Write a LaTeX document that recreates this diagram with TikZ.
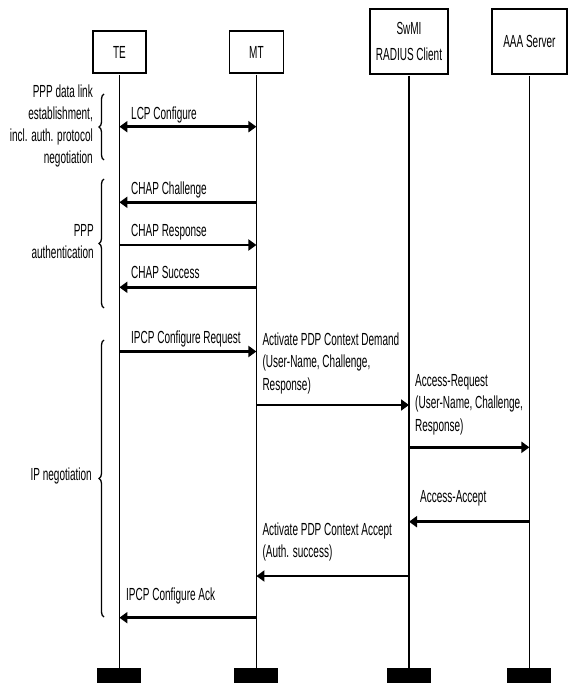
\documentclass[tikz,border=0pt]{standalone}
\usepackage{fontspec}
\setmainfont{Liberation Sans}
\usetikzlibrary{arrows.meta,decorations.pathreplacing}

\tikzset{
	>={Triangle[length=8pt,width=11pt]},
	party/.style={draw, line width=1.8pt, yscale=1.75, inner sep=0pt, align=center, font=\fontsize{10}{13}\selectfont},
	bar/.style={fill=black, inner sep=0pt, minimum width=44pt, minimum height=15pt},
	life/.style={line width=1.6pt},
	msg/.style={line width=2.6pt, ->},
	lbl/.style={yscale=1.75, inner sep=0pt, anchor=north west, align=left, font=\fontsize{10}{12.8}\selectfont},
	grp/.style={yscale=1.75, inner sep=0pt, anchor=east, align=right, font=\fontsize{10}{12.6}\selectfont},
	brc/.style={decorate, decoration={brace, amplitude=5pt}, line width=1.3pt}
}

\begin{document}
\begin{tikzpicture}[x=1pt,y=-1pt]
\useasboundingbox (0,0) rectangle (568,684);

\node[party, minimum width=53pt, minimum height=24pt] (te) at (119.4,52) {TE};
\node[party, minimum width=54pt, minimum height=24pt] (mt) at (256.4,52) {MT};
\node[party, minimum width=78pt, minimum height=37.1pt, font=\fontsize{10}{15.4}\selectfont] (sw) at (409,41.5) {SwMI\\RADIUS Client};
\node[party, minimum width=75pt, minimum height=37.1pt] (aaa) at (529.4,41.5) {AAA Server};

\foreach \p/\x in {te/119.4, mt/256.4, sw/409, aaa/529.4}{
	\node[bar] (b\p) at (\x,675.5) {};
	\draw[life] (\p) -- (b\p);
}

\draw[msg, <->] (te |- 0,126.7) -- (mt |- 0,126.7);
\foreach \y/\a/\b in {
	202.3/mt/te, 245/te/mt, 287.3/mt/te,%
	351.5/te/mt, 405/mt/sw, 447.3/sw/aaa,%
	521.7/aaa/sw, 576/sw/mt, 617.7/mt/te%
}{
	\draw[msg] (\a |- 0,\y) -- (\b |- 0,\y);
}

\foreach[count=\i] \x/\y/\t in {
	131/106.2/LCP Configure,
	131/181.2/CHAP Challenge,
	131/223.9/CHAP Response,
	131/266.2/CHAP Success,
	131/330.2/IPCP Configure Request,
	262.3/332.2/{Activate PDP Context Demand\\(User-Name, Challenge,\\Response)},
	415/373.9/{Access-Request\\(User-Name, Challenge,\\Response)},
	420/490.5/Access-Accept,
	262.3/522.2/{Activate PDP Context Accept\\(Auth. success)},
	126/587.2/IPCP Configure Ack%
}{
	\node[lbl] (m\i) at (\x,\y) {\t};
}

\draw[brc] (104,160) -- (104,94);
\node[grp] (g1) at (93,126) {PPP data link\\establishment,\\incl. auth. protocol\\negotiation};

\draw[brc] (104,308) -- (104,179);
\node[grp] (g2) at (94,242) {PPP\\authentication};

\draw[brc] (104,617) -- (104,340);
\node[grp] (g3) at (92,476) {IP negotiation};

\end{tikzpicture}
\end{document}
